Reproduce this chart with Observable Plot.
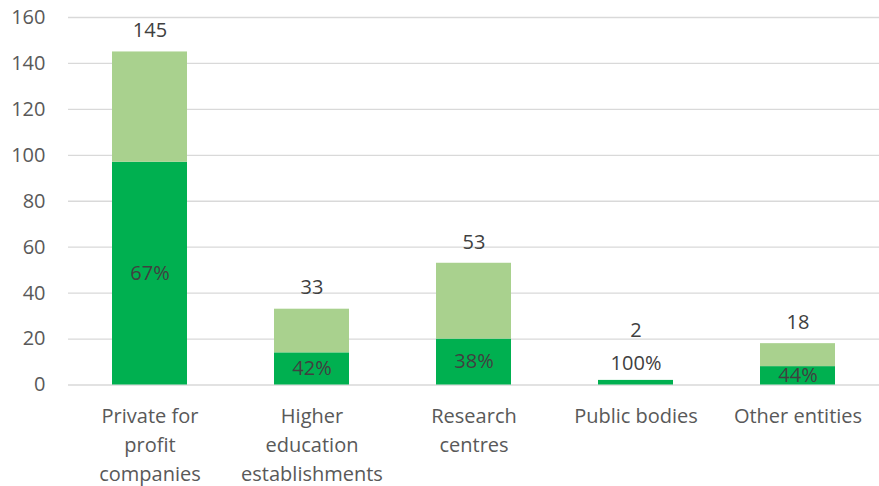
<!DOCTYPE html>
<html>
<head>
<meta charset="utf-8">
<script src="https://cdn.jsdelivr.net/npm/d3@7"></script>
<script src="https://cdn.jsdelivr.net/npm/@observablehq/plot@0.6"></script>
<style>
  html, body { margin: 0; padding: 0; background: #fff; }
  #chart svg { display: block; }
</style>
</head>
<body>
<div id="chart"></div>
<script>
const categories = ["Private for profit companies", "Higher education establishments", "Research centres", "Public bodies", "Other entities"];
const tickLabels = ["Private for\nprofit\ncompanies", "Higher\neducation\nestablishments", "Research\ncentres", "Public bodies", "Other entities"];
const totals = [145, 33, 53, 2, 18];
const darkCounts = [97, 14, 20, 2, 8];
const percentLabels = ["67%", "42%", "38%", "100%", "44%"];
const yTicks = [0, 20, 40, 60, 80, 100, 120, 140, 160];

const DARK = "#00B050", LIGHT = "#A9D18E";

const rows = [];
categories.forEach((c, i) => {
  rows.push({cat: c, part: "dark", value: darkCounts[i]});
  rows.push({cat: c, part: "light", value: totals[i] - darkCounts[i]});
});

const pctRows = categories.map((c, i) => {
  const small = darkCounts[i] < 5;
  const y = small ? darkCounts[i] + 7.4 : darkCounts[i] / 2;
  return {cat: c, y, label: percentLabels[i]};
});
const totRows = categories.map((c, i) => ({
  cat: c,
  y: Math.max(totals[i] + 9.2, pctRows[i].y + 14.4),
  label: String(totals[i])
}));

const labelMap = new Map(categories.map((c, i) => [c, tickLabels[i]]));
const font = "'Open Sans', 'Noto Sans', sans-serif";

const chart = Plot.plot({
  width: 879,
  height: 486,
  marginLeft: 68,
  marginRight: 0,
  marginTop: 17,
  marginBottom: 101.5,
  style: {fontFamily: font, background: "#fff"},
  x: {domain: categories, paddingInner: 0.54, paddingOuter: 0.27, label: null},
  y: {domain: [0, 160], label: null},
  color: {domain: ["dark", "light"], range: [DARK, LIGHT]},
  marks: [
    Plot.gridY(yTicks, {stroke: "#d9d9d9", strokeOpacity: 1, strokeWidth: 1.3}),
    Plot.axisY({ticks: yTicks, tickSize: 0, tickPadding: 23, fontSize: 20, fill: "#595959", label: null}),
    Plot.axisX({tickSize: 0, tickPadding: 17, fontSize: 20, fill: "#595959", lineHeight: 1.45, tickFormat: d => labelMap.get(d), label: null}),
    Plot.barY(rows, {x: "cat", y: "value", fill: "part", order: ["dark", "light"]}),
    Plot.text(pctRows, {x: "cat", y: "y", text: "label", fontSize: 20, fill: "#404040"}),
    Plot.text(totRows, {x: "cat", y: "y", text: "label", fontSize: 20, fill: "#404040"})
  ]
});
document.getElementById("chart").appendChild(chart);
</script>
</body>
</html>
